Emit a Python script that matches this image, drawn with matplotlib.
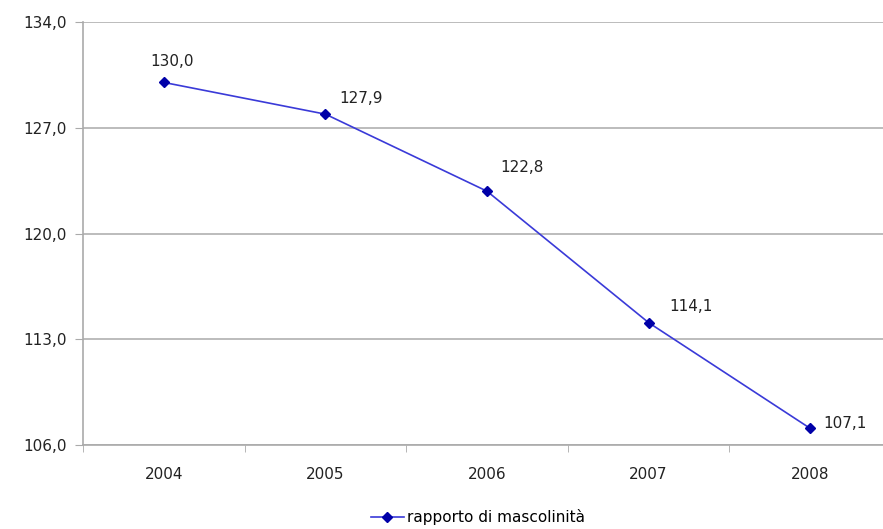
import matplotlib.pyplot as plt
import numpy as np

plt.rcParams['font.family'] = ['DejaVu Sans']

anni = ['2004', '2005', '2006', '2007', '2008']
rapporto = [130.0, 127.9, 122.8, 114.1, 107.1]
y_ticks = [106.0, 113.0, 120.0, 127.0, 134.0]
# offset etichette in punti (dx dal bordo sinistro, dy dal centro)
label_offsets = [(-10, 15), (10, 11), (9.5, 17), (15, 11.5), (9.5, 3.5)]

fig = plt.figure(figsize=(8.83, 5.29), dpi=100)
ax = fig.add_axes([83 / 883, 84 / 529, 808 / 883, 423 / 529])

x = np.arange(len(anni))
line, = ax.plot(x, rapporto, color='#3a3ad8', lw=1.2, marker='D', markersize=5,
                markerfacecolor='#0000a8', markeredgecolor='#0000a8',
                label='rapporto di mascolinità')

for i, v in enumerate(rapporto):
    dx, dy = label_offsets[i]
    ax.annotate(f'{v:.1f}'.replace('.', ','), (x[i], v), xytext=(dx, dy),
                textcoords='offset points', ha='left', va='center',
                fontsize=11, color='#222222')

ax.set_xlim(-0.5, len(anni) - 0.5)
ax.set_ylim(106, 134)
ax.set_yticks(y_ticks)
ax.set_yticklabels([f'{t:.1f}'.replace('.', ',') for t in y_ticks], fontsize=11, color='#222222')
ax.set_xticks(x)
ax.set_xticklabels(anni, fontsize=11, color='#222222')
ax.set_xticks(np.arange(-0.5, len(anni)), minor=True)
ax.tick_params(axis='x', which='major', length=0, pad=16)
ax.tick_params(axis='x', which='minor', length=5, color='#aaaaaa', direction='out')
ax.tick_params(axis='y', length=6, color='#aaaaaa', pad=6)

ax.grid(axis='y', color='#b0b0b0', lw=1.2)
ax.set_axisbelow(True)
for s in ['top', 'right']:
    ax.spines[s].set_visible(False)
for s in ['left', 'bottom']:
    ax.spines[s].set_color('#aaaaaa')
    ax.spines[s].set_linewidth(1.2)

leg = fig.legend(handles=[line], loc='center', frameon=False, fontsize=11,
                 handlelength=2.2, handletextpad=0.2,
                 bbox_to_anchor=(478 / 883, 1 - 517 / 529))

fig.savefig('out.png', dpi=100)
